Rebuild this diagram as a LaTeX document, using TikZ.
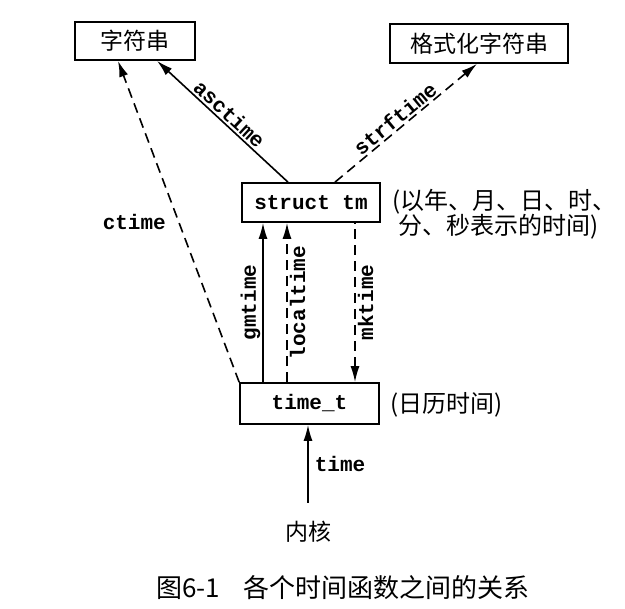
\documentclass[tikz,border=0pt]{standalone}
\usepackage{fontspec}
\setmonofont{Liberation Mono}
\newfontfamily\cjk{Noto Sans CJK SC}
\usetikzlibrary{arrows.meta}
\begin{document}
\begin{tikzpicture}[x=1pt,y=-1pt,
  box/.style={draw, line width=1.7pt, inner sep=0pt},
  conn/.style={line width=1.6pt, -{Latex[length=16pt,width=9pt]}},
  dsh/.style={conn, dash pattern=on 10pt off 6pt},
  code/.style={font=\ttfamily\bfseries\fontsize{21}{24}\selectfont, inner sep=2pt},
  zh/.style={font=\cjk\fontsize{23}{25}\selectfont},
]
\useasboundingbox[fill=white] (0,0) rectangle (625,609);
% boxes
\node[box, zh, minimum width=120pt, minimum height=38pt] (s1) at (135,41) {字符串};
\node[box, zh, minimum width=178pt, minimum height=39pt] (s2) at (479,43.5) {格式化字符串};
\node[box, code, minimum width=138pt, minimum height=39pt] (tm) at (311,202.5) {struct tm};
\node[box, code, minimum width=139pt, minimum height=41pt] (tt) at (309.5,403.5) {time\_t};
\node[zh] (kernel) at (308,532) {内核};
% annotations
\node[zh, anchor=west, align=left, inner sep=0pt, font=\cjk\fontsize{24}{25}\selectfont] (ann1) at (392,214.5) {(以年、月、日、时、\\\hspace{6pt}分、秒表示的时间)};
\node[zh, anchor=west, inner sep=0pt, font=\cjk\fontsize{24}{25}\selectfont] (ann2) at (390,405) {(日历时间)};
% connectors
\draw[conn] ([xshift=-23pt]tm.north) -- node[code, midway, sloped, above] {asctime} ([xshift=22pt]s1.south);
\draw[dsh] ([xshift=24pt]tm.north) -- node[code, pos=0.47, sloped, above] {strftime} ([xshift=-2pt]s2.south);
\draw[dsh] (tt.north west) -- node[code, midway, left=10pt] {ctime} ([xshift=-17pt]s1.south);
\draw[conn] ([xshift=-46.5pt]tt.north) -- node[code, midway, sloped, above] {gmtime} ([xshift=-46.5pt]tt.north |- tm.south);
\draw[dsh] ([xshift=-22.5pt]tt.north) -- node[code, midway, sloped, below] {localtime} ([xshift=-22.5pt]tt.north |- tm.south);
\draw[dsh, {Latex[length=16pt,width=9pt]}-] ([xshift=45.5pt]tt.north) -- node[code, midway, sloped, below] {mktime} ([xshift=45.5pt]tt.north |- tm.south);
\draw[conn] ([yshift=15pt]kernel.north) -- node[code, midway, right=4pt] {time} (kernel.north |- tt.south);
% caption
\node[font=\cjk\fontsize{26}{30}\selectfont] (cap) at (343,588) {图6-1\hspace{0.9em}各个时间函数之间的关系};
\end{tikzpicture}
\end{document}
